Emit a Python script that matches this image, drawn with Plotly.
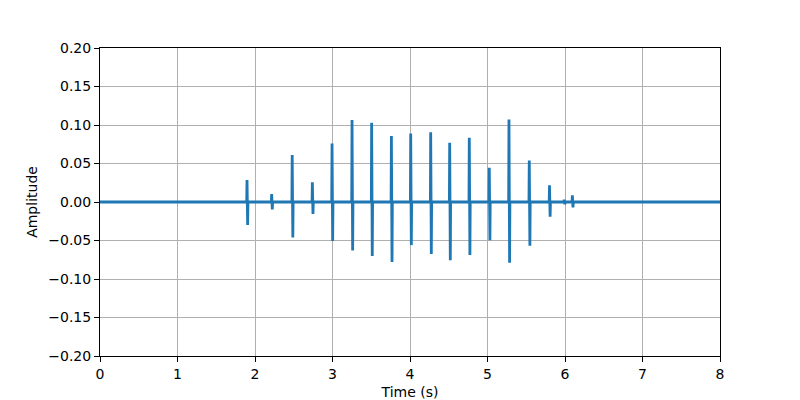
import plotly.graph_objects as go

# spike events: time (s), positive peak, negative trough
spike_times = [1.897, 2.215, 2.48, 2.74, 2.994, 3.252, 3.505, 3.76, 4.009, 4.267,
               4.512, 4.765, 5.023, 5.277, 5.539, 5.80, 5.99, 6.095]
spike_peaks = [0.0286, 0.0104, 0.061, 0.0256, 0.076, 0.1065, 0.103, 0.0857, 0.089, 0.0905,
               0.077, 0.0835, 0.0446, 0.107, 0.054, 0.0216, 0.003, 0.0087]
spike_troughs = [-0.030, -0.0095, -0.046, -0.0156, -0.0506, -0.063, -0.070, -0.078, -0.056, -0.0675,
                 -0.0757, -0.0688, -0.0498, -0.079, -0.0567, -0.019, -0.003, -0.0069]
t_start, t_end = 0.0, 8.0

# assemble the trace: flat baseline with a peak/trough excursion at each event
xs = [t_start]
ys = [0.0]
for t, hi, lo in zip(spike_times, spike_peaks, spike_troughs):
    xs += [t - 0.004, t, t + 0.008, t + 0.012]
    ys += [0.0, hi, lo, 0.0]
xs.append(t_end)
ys.append(0.0)

fig = go.Figure()
fig.add_trace(go.Scatter(
    x=xs, y=ys, mode='lines',
    line=dict(color='#1f77b4', width=2.8),
    showlegend=False,
))

axis_common = dict(
    showline=True, linecolor='black', linewidth=1, mirror=True,
    ticks='outside', ticklen=5, tickcolor='black', tickwidth=1,
    showgrid=True, gridcolor='#b0b0b0', gridwidth=1,
    zeroline=False, automargin=False,
    tickfont=dict(family='DejaVu Sans', size=14, color='black'),
)

fig.update_xaxes(
    range=[0, 8], dtick=1, tick0=0,
    title=dict(text='Time (s)', font=dict(family='DejaVu Sans', size=14, color='black'), standoff=6),
    **axis_common,
)
fig.update_yaxes(
    range=[-0.2, 0.2], dtick=0.05, tick0=0, tickformat='.2f',
    title=dict(text='Amplitude', font=dict(family='DejaVu Sans', size=14, color='black'), standoff=7),
    **axis_common,
)

# the page puts the plot 8px in from the top-left corner, so size the figure to match
fig.update_layout(
    width=792, height=392,
    margin=dict(l=92, r=80, t=40, b=44),
    plot_bgcolor='white', paper_bgcolor='white',
)

fig.write_html("out.html")
